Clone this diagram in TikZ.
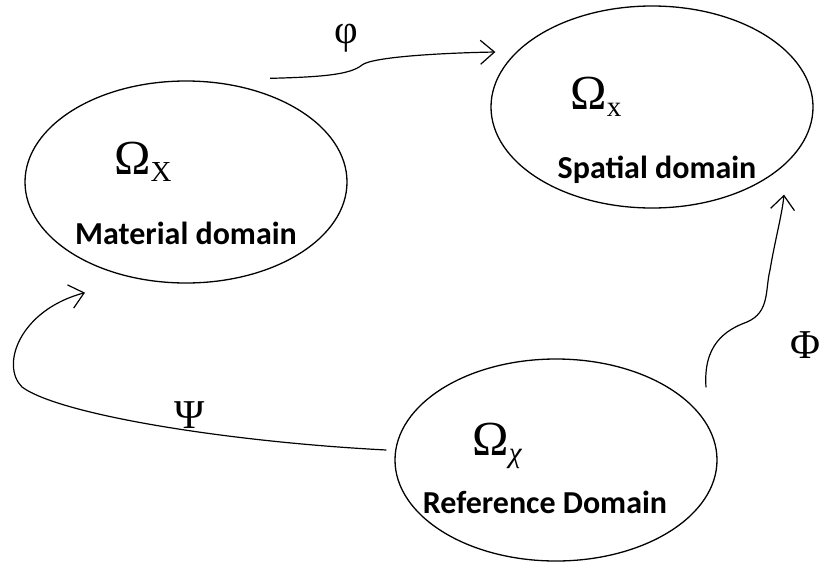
\documentclass[tikz,border=0pt]{standalone}
\usepackage{fontspec}
\setmainfont{Liberation Serif}
\newfontfamily\calfont{Carlito}
\usetikzlibrary{shapes.geometric, arrows.meta, calc}

\newcommand{\omsub}[1]{\raisebox{-0.3ex}{\fontsize{29}{29}\selectfont #1}}

\begin{document}
\begin{tikzpicture}
	[x=1pt, y=-1pt, >={Straight Barb[length=14pt,width=24pt]}, line width=1.2pt,
	region/.style={ellipse, draw, line width=1.3pt, inner sep=0pt, minimum width=322pt, minimum height=202pt},
	omega/.style={font=\fontsize{49}{49}\selectfont, inner sep=0pt},
	dlabel/.style={font=\calfont\bfseries\fontsize{32}{32}\selectfont, inner sep=0pt},
	maplabel/.style={font=\fontsize{41}{41}\selectfont, inner sep=0pt},
	mapping/.style={->, line width=1.2pt}
	]
	\path[use as bounding box] (0,0) rectangle (824,568);
	
	% Nodes
	\node[region] (mat) at (186,182) {};
	\node[region] (spa) at (652,107) {};
	\node[region] (refd) at (556,460) {};
	
	\node[omega] (omX) at (143,162) {Ω\omsub{X}};
	\node[dlabel] (matlbl) at (186,233) {Material domain};
	\node[omega] (omx) at (596,97) {Ω\omsub{x}};
	\node[dlabel] (spalbl) at (657,170) {Spatial domain};
	\node[omega] (omchi) at (497,446) {Ω\omsub{\itshape χ}};
	\node[dlabel] (reflbl) at (545,502) {Reference Domain};
	
	% Ends of the maps
	\coordinate (phiS) at ($(mat.north)+(84,-2)$);
	\coordinate (phiE) at ($(spa.west)+(5,-55)$);
	\coordinate (psiS) at ($(refd.west)+(-8,-10)$);
	\coordinate (psiE) at ($(mat.south)+(-101,9)$);
	\coordinate (PhiS) at ($(refd.north)+(150,29)$);
	\coordinate (PhiE) at ($(spa.south)+(132,-14)$);
	
	% Arrows
	\draw[mapping] (phiS) .. controls (320,77) and (350,75) .. (362,65)
		.. controls (372,57) and (440,53) .. (phiE);
	\node[maplabel] (phi) at (346,38) {φ};
	
	\draw[mapping] (psiS) .. controls (230,442) and (60,415) .. (22,387)
		.. controls (0,365) and (20,310) .. (psiE);
	\node[maplabel] (psi) at (190,415) {Ψ};
	
	\draw[mapping] (PhiS) .. controls (703,345) and (725,330) .. (747,322)
		.. controls (770,312) and (765,290) .. (770,270)
		.. controls (775,240) and (782,215) .. (PhiE);
	\node[maplabel] (Phi) at (805,345) {Φ};
\end{tikzpicture}
\end{document}
